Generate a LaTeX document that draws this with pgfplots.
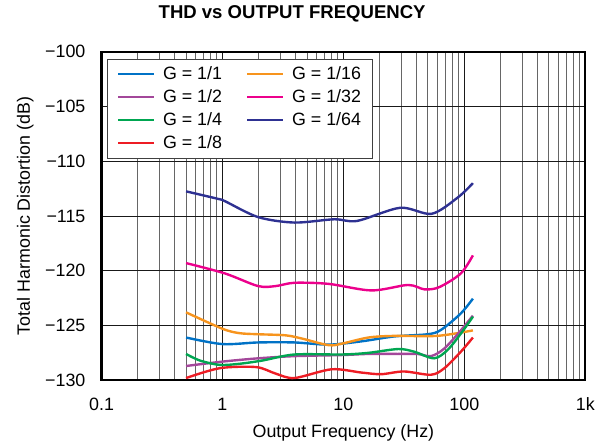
\documentclass[border=0pt]{standalone}
\usepackage{fontspec}
\setmainfont{Liberation Sans}
\usepackage{pgfplots}
\pgfplotsset{compat=1.18}
\definecolor{gA}{HTML}{0072C6}
\definecolor{gB}{HTML}{A3479A}
\definecolor{gC}{HTML}{00A651}
\definecolor{gD}{HTML}{ED1C24}
\definecolor{gE}{HTML}{F7941D}
\definecolor{gF}{HTML}{EC008C}
\definecolor{gG}{HTML}{2E3192}
\newcommand{\fs}{\fontsize{18}{21}\selectfont}
\begin{document}
\begin{tikzpicture}
\path (-102bp,-65bp) rectangle (496bp,382bp);
\begin{axis}[
  at={(0,0)}, anchor=south west,
  scale only axis, width=486bp, height=330bp,
  font=\fs,
  /pgf/number format/assume math mode=true,
  xmode=log, xmin=0.1, xmax=1000, ymin=-130, ymax=-100,
  xtick={0.1,1,10,100,1000}, xticklabels={0.1,1,10,100,1k},
  minor xtick={0.2,0.3,0.4,0.5,0.6,0.7,0.8,0.9,2,3,4,5,6,7,8,9,20,30,40,50,60,70,80,90,200,300,400,500,600,700,800,900},
  ytick={-130,-125,-120,-115,-110,-105,-100},
  yticklabels={−130,−125,−120,−115,−110,−105,−100},
  grid=both,
  major grid style={black!90, line width=0.9bp},
  minor grid style={black!60, line width=0.9bp},
  axis line style={line width=2.2bp},
  major tick length=0pt, minor tick length=0pt,
  tick label style={font=\fs},
  xticklabel style={anchor=base, yshift=-30bp},
  yticklabel style={anchor=east, inner sep=0pt, xshift=-16bp},
  title={THD vs OUTPUT FREQUENCY},
  title style={at={(axis description cs:0.394,1.0833)}, anchor=base, font=\bfseries\fontsize{18.7}{21}\selectfont},
  xlabel={Output Frequency (Hz)},
  xlabel style={at={(axis description cs:0.5,-0.1758)}, anchor=base, font=\fs},
  ylabel={Total Harmonic Distortion (dB)},
  ylabel style={at={(axis description cs:-0.148,0.5)}, anchor=base, font=\fs},
  legend columns=2,
  legend cell align=left,
  legend image code/.code={\draw[#1] plot coordinates {(0bp,0bp) (36bp,0bp)};},
  legend style={at={(axis description cs:0.0123,0.979)}, anchor=north west,
    draw=black!75, line width=0.8bp, fill=white, font=\fs,
    inner xsep=9bp, inner ysep=6bp, row sep=4.5bp,
    /tikz/every odd column/.append style={column sep=6bp},
    /tikz/every even column/.append style={column sep=22bp}},
  every axis plot/.append style={line width=2.4bp, smooth, tension=0.5},
]
\addplot[gA] coordinates {(0.5,-126.1) (1.0,-126.7) (1.97,-126.55) (3.94,-126.55) (7.55,-126.75) (14.1,-126.45) (26.4,-126.0) (49.8,-125.8) (64.2,-125.4) (93.5,-123.9) (117.7,-122.55)};
\addlegendentry{G = 1/1}
\addplot[gE] coordinates {(0.5,-123.8) (1.0,-125.3) (1.38,-125.7) (1.97,-125.8) (3.33,-125.9) (4.56,-126.2) (7.55,-126.8) (9.8,-126.65) (16.1,-126.1) (26.4,-125.95) (59.7,-125.95) (117.7,-125.45)};
\addlegendentry{G = 1/16}
\addplot[gB] coordinates {(0.5,-128.7) (1.0,-128.3) (1.97,-128.0) (3.94,-127.8) (9.8,-127.7) (16.1,-127.6) (28,-127.6) (41,-127.6) (53,-127.8) (68.4,-127.1) (93.5,-125.45) (117.7,-124.1)};
\addlegendentry{G = 1/2}
\addplot[gF] coordinates {(0.5,-119.3) (1.05,-120.25) (1.97,-121.4) (2.76,-121.4) (3.94,-121.1) (7.55,-121.2) (17.1,-121.8) (34.2,-121.3) (46.8,-121.7) (62,-121.5) (93.5,-120.25) (117.7,-118.6)};
\addlegendentry{G = 1/32}
\addplot[gC] coordinates {(0.5,-127.6) (0.65,-128.2) (0.95,-128.6) (1.38,-128.5) (2.14,-128.2) (3.94,-127.65) (9.8,-127.65) (16.1,-127.5) (28.5,-127.15) (38.6,-127.4) (56.2,-128.0) (72.5,-127.25) (93.5,-125.75) (117.7,-124.2)};
\addlegendentry{G = 1/4}
\addplot[gG] coordinates {(0.5,-112.75) (0.93,-113.45) (1.05,-113.65) (1.97,-115.1) (3.94,-115.6) (8.4,-115.3) (13,-115.45) (29.5,-114.25) (53.7,-114.8) (88.5,-113.3) (117.7,-112.0)};
\addlegendentry{G = 1/64}
\addplot[gD] coordinates {(0.5,-129.8) (0.95,-128.9) (1.9,-128.8) (2.76,-129.4) (3.94,-129.8) (8.0,-129.0) (14.1,-129.3) (20.5,-129.45) (31.7,-129.2) (53,-129.5) (68.4,-128.9) (93.5,-127.4) (117.7,-126.1)};
\addlegendentry{G = 1/8}
\end{axis}
\end{tikzpicture}
\end{document}
